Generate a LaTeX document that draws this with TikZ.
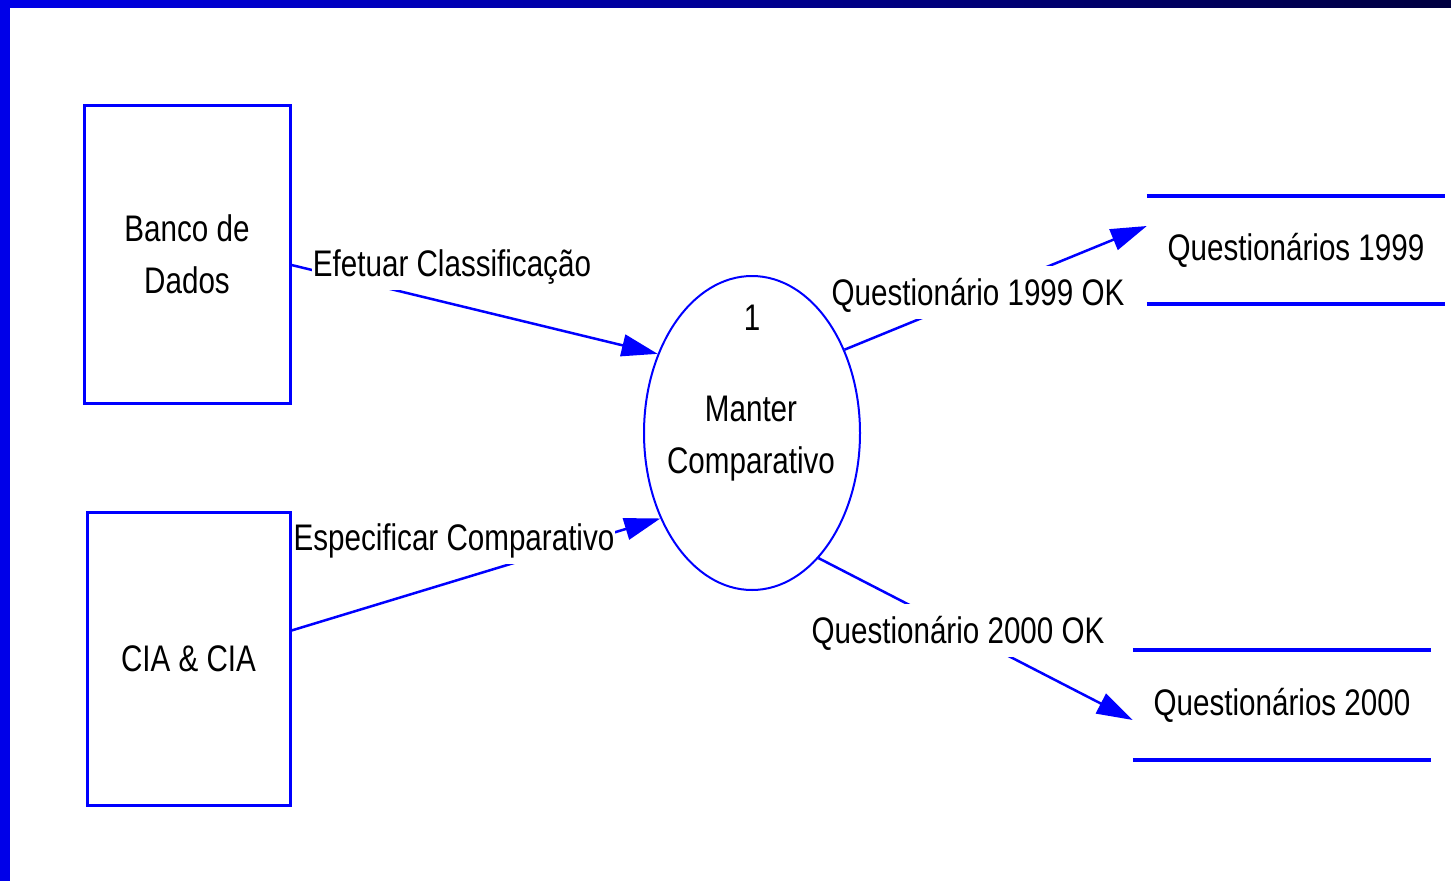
\documentclass[tikz,border=0pt]{standalone}
\usepackage{fontspec}
\setmainfont[FakeStretch=0.8]{Liberation Sans}
\usetikzlibrary{shapes.geometric,arrows.meta}
\definecolor{dfdblue}{RGB}{0,0,255}
\definecolor{barblue}{RGB}{0,0,232}
\definecolor{barnavy}{RGB}{0,0,64}
\tikzset{
  txt/.style={font=\fontsize{37}{52}\selectfont, align=center, text=black},
  entity/.style={txt, draw=dfdblue, line width=3, inner sep=0},
  process/.style={draw=dfdblue, line width=2, ellipse, inner sep=0},
  store/.style={txt, inner sep=0},
  storeline/.style={draw=dfdblue, line width=3.5},
  flow/.style={draw=dfdblue, line width=2.5, -{Triangle[length=36pt,width=22pt]}},
  flowlabel/.style={txt, fill=white, inner xsep=1pt, inner ysep=0, minimum height=53,
    text height=32pt, text depth=6pt}
}
\begin{document}
\begin{tikzpicture}[x=1pt,y=-1pt]
% page and frame bars
\fill[white] (0,0) rectangle (1451,881);
\useasboundingbox (0,0) rectangle (1451,881);
\shade[left color=barblue, right color=barnavy] (0,0) rectangle (1451,7);
\fill[barblue] (0,0) rectangle (10,881);

% external entities
\node[entity, minimum width=206, minimum height=298] (db) at (187,254) {Banco de\\Dados};
\node[entity, minimum width=203, minimum height=293] (cia) at (188.5,658.5) {CIA \& CIA};

% process
\node[process, minimum width=216, minimum height=314] (proc) at (752,433) {};
\node[txt] (pnum) at (752,318) {1};
\node[txt] (pname) at (751,439) {Manter\\Comparativo};

% data stores
\node[store, minimum width=298, minimum height=108] (s99) at (1296,250) {Questionários 1999};
\draw[storeline] (s99.north west) -- (s99.north east);
\draw[storeline] (s99.south west) -- (s99.south east);
\node[store, minimum width=298, minimum height=110] (s00) at (1282,705) {Questionários 2000};
\draw[storeline] (s00.north west) -- (s00.north east);
\draw[storeline] (s00.south west) -- (s00.south east);

% data flows
\draw[flow] ([yshift=-11pt]db.east) -- (proc.140);
\draw[flow] ([yshift=28pt]cia.east) -- (proc.223);
\draw[flow] (proc.42.5) -- ([yshift=24pt]s99.west);
\draw[flow] (proc.298.5) -- ([yshift=-15pt]s00.west);

% flow labels
\node[flowlabel] (l1) at (452,263) {Efetuar Classificação};
\node[flowlabel] (l2) at (454,537) {Especificar Comparativo};
\node[flowlabel] (l3) at (978,292) {Questionário 1999 OK};
\node[flowlabel] (l4) at (958,630) {Questionário 2000 OK};
\end{tikzpicture}
\end{document}
